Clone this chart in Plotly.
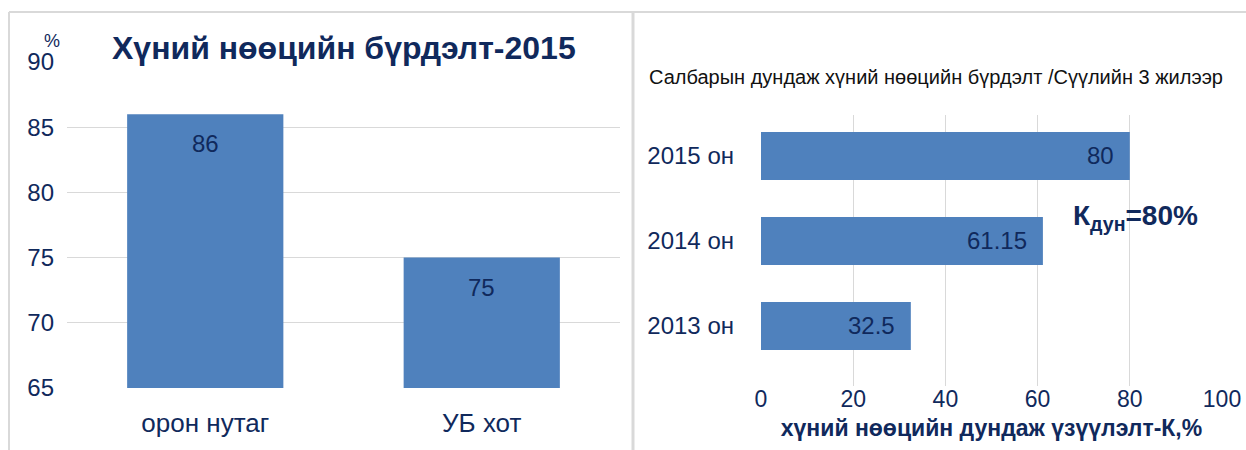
import plotly.graph_objects as go

# ---- data ----
left_categories = ["орон нутаг", "УБ хот"]
left_values = [86, 75]
left_title = "Хүний нөөцийн бүрдэлт-2015"
left_ticks = [65, 70, 75, 80, 85, 90]

right_categories = ["2013 он", "2014 он", "2015 он"]
right_values = [32.5, 61.15, 80]
right_title = "Салбарын дундаж хүний нөөцийн бүрдэлт /Сүүлийн 3 жилээр"
right_xlabel = "хүний нөөцийн дундаж үзүүлэлт-К,%"
right_ticks = [0, 20, 40, 60, 80, 100]
avg_note = "К<sub>дун</sub>=80%"

W, H = 1246, 450
NAVY = "#10295c"
BAR = "#4f81bd"
GRID = "#d9d9d9"
FONT = "Liberation Sans, Arial, sans-serif"

def px(x):
    return x / W

def py(y):
    return 1 - y / H

fig = go.Figure()

fig.add_trace(go.Bar(
    x=left_categories, y=left_values, width=0.565,
    marker=dict(color=BAR, line=dict(width=0)),
    xaxis="x", yaxis="y", showlegend=False, hoverinfo="skip",
))
fig.add_trace(go.Bar(
    x=right_values, y=right_categories, orientation="h", width=0.565,
    marker=dict(color=BAR, line=dict(width=0)),
    xaxis="x2", yaxis="y2", showlegend=False, hoverinfo="skip",
))

annotations = []
for c, v in zip(left_categories, left_values):
    annotations.append(dict(x=c, y=v, xref="x", yref="y", text=str(v), showarrow=False,
                            xanchor="center", yanchor="top", yshift=-14,
                            font=dict(size=24, color=NAVY, family=FONT)))
for c, v in zip(right_categories, right_values):
    annotations.append(dict(x=v, y=c, xref="x2", yref="y2", text=f"{v:g}", showarrow=False,
                            xanchor="right", yanchor="middle", xshift=-14,
                            font=dict(size=24, color=NAVY, family=FONT)))

annotations += [
    dict(x=px(344), y=py(48), xref="paper", yref="paper", text=f"<b>{left_title}</b>",
         xanchor="center", yanchor="middle",
         showarrow=False, font=dict(size=32, color=NAVY, family=FONT)),
    dict(x=px(52), y=py(41), xref="paper", yref="paper", text="%",
         xanchor="center", yanchor="middle",
         showarrow=False, font=dict(size=18, color=NAVY, family=FONT)),
    dict(x=px(936), y=py(77), xref="paper", yref="paper", text=right_title,
         xanchor="center", yanchor="middle",
         showarrow=False, font=dict(size=20, color="#111111", family=FONT)),
    dict(x=px(1135), y=py(217), xref="paper", yref="paper", text=f"<b>{avg_note}</b>",
         xanchor="center", yanchor="middle",
         showarrow=False, font=dict(size=28, color=NAVY, family=FONT)),
]

shapes = [
    dict(type="line", xref="paper", yref="paper", x0=px(9), x1=1, y0=py(12), y1=py(12),
         line=dict(color=GRID, width=2)),
    dict(type="line", xref="paper", yref="paper", x0=px(9), x1=px(9), y0=py(12), y1=0,
         line=dict(color=GRID, width=2)),
    dict(type="line", xref="paper", yref="paper", x0=px(633), x1=px(633), y0=py(12), y1=0,
         line=dict(color=GRID, width=3)),
]

fig.update_layout(
    width=W, height=H,
    margin=dict(l=0, r=0, t=0, b=0, autoexpand=False),
    paper_bgcolor="white", plot_bgcolor="white",
    font=dict(family=FONT, color=NAVY, size=22),
    annotations=annotations, shapes=shapes,
    xaxis=dict(domain=[px(67), px(620)], range=[-0.5, 1.5], showgrid=False, zeroline=False,
               showline=False, ticks="", tickfont=dict(size=26, color=NAVY), ticklabelstandoff=17),
    yaxis=dict(domain=[py(388), py(62)], range=[65, 90], tickvals=left_ticks, showgrid=True,
               gridcolor=GRID, gridwidth=1, zeroline=False, showline=False, ticks="",
               tickfont=dict(size=24, color=NAVY), ticklabelstandoff=12),
    xaxis2=dict(domain=[px(761), px(1222)], range=[0, 100], tickvals=right_ticks, showgrid=True,
                gridcolor=GRID, gridwidth=1, zeroline=False, showline=False, ticks="",
                anchor="y2", tickfont=dict(size=23, color=NAVY), ticklabelstandoff=-3,
                title=dict(text=f"<b>{right_xlabel}</b>", font=dict(size=23, color=NAVY), standoff=8)),
    yaxis2=dict(domain=[py(386), py(115)], range=[-0.706, 2.482], anchor="x2", showgrid=False,
                zeroline=False, showline=False, ticks="", tickfont=dict(size=24, color=NAVY),
                ticklabelstandoff=26, categoryorder="array", categoryarray=right_categories),
)

fig.write_html("out.html", config={"displayModeBar": False},
               post_script="document.body.style.margin='0';")
